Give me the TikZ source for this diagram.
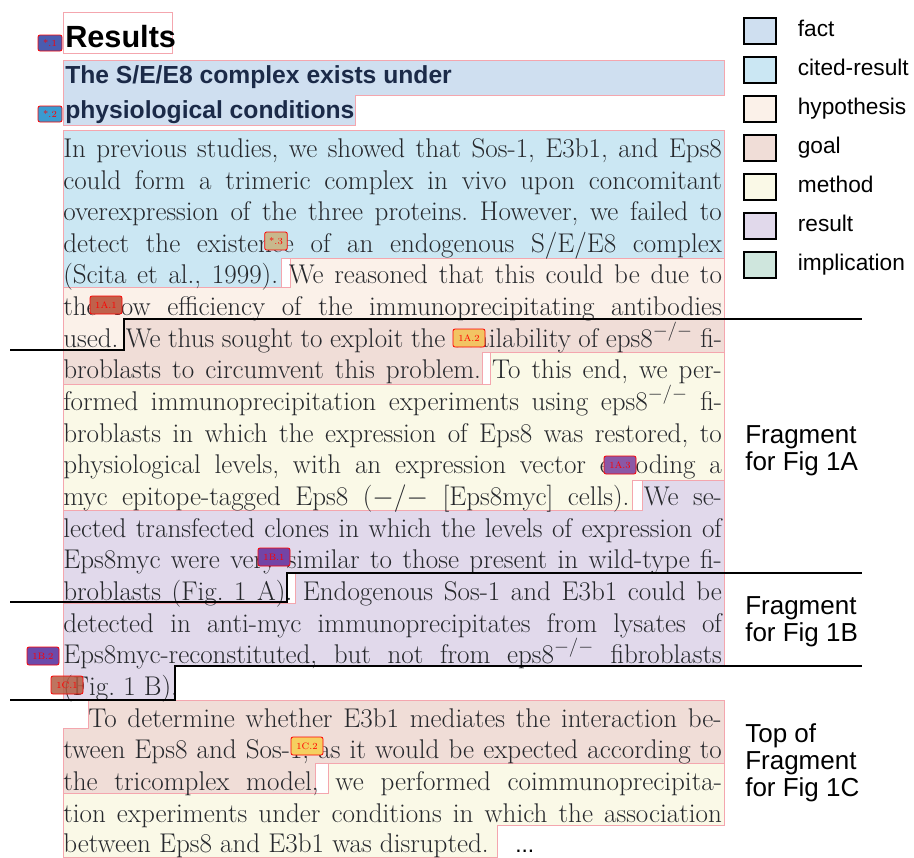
\documentclass[tikz,border=0pt]{standalone}
\usepackage{fontspec}
\setsansfont{Liberation Sans}
\usetikzlibrary{positioning}
\frenchspacing

\definecolor{factc}{HTML}{CFDFF0}
\definecolor{citedc}{HTML}{CBE7F3}
\definecolor{hypoc}{HTML}{FBF1E9}
\definecolor{goalc}{HTML}{F0DDD7}
\definecolor{methc}{HTML}{FAF9E7}
\definecolor{resc}{HTML}{E1D9EB}
\definecolor{implc}{HTML}{CFE6DD}
\definecolor{edgec}{HTML}{F4A6AE}
\definecolor{bodyc}{HTML}{26282C}
\definecolor{headc}{HTML}{1B2A48}
% badge fills
\definecolor{bgone}{HTML}{4A5CB0}
\definecolor{bgtwo}{HTML}{3A9BD0}
\definecolor{bgkhaki}{HTML}{C8B88C}
\definecolor{bgbrick}{HTML}{C0614B}
\definecolor{bgyellow}{HTML}{F2C463}
\definecolor{bgplum}{HTML}{8A58A6}
\definecolor{bgviolet}{HTML}{7344A6}
\definecolor{bgindigo}{HTML}{6B4AAA}
\definecolor{bgrust}{HTML}{B35D44}
\definecolor{bglemon}{HTML}{F5D060}

\newcommand{\jl}[1]{\makebox[494pt][s]{#1}}
\newcommand{\ko}{$^{-/-}$}

\tikzset{
  region/.style={draw=edgec, line width=0.4pt},
  bodyline/.style={anchor=base west, inner sep=0pt, text=bodyc, font=\fontsize{20.3}{24}\selectfont},
  headline/.style={anchor=base west, inner sep=0pt, text=headc, font=\fontsize{18.5}{22}\sffamily\bfseries},
  badge/.style={draw=red, fill=#1, rounded corners=1.5pt, line width=0.6pt, text=red,
    font=\fontsize{7}{7}\selectfont, minimum width=24pt, minimum height=13.5pt, inner sep=0pt},
  sepline/.style={line width=1.5pt},
  legbox/.style={draw, line width=0.9pt, minimum width=24pt, minimum height=19.5pt, inner sep=0pt},
  leglabel/.style={font=\fontsize{17}{20}\sffamily, text height=12pt, text depth=3.5pt, inner sep=0pt},
  fraglabel/.style={font=\fontsize{19.5}{20.25}\sffamily, align=left, anchor=north west, inner sep=0pt}
}

\begin{document}
\begin{tikzpicture}[x=0.75pt, y=-0.75pt]
    \useasboundingbox (0,0) rectangle (914,857);

    % highlighted spans
    \draw[region] (63,12) rectangle (172,53);
    \filldraw[region, fill=factc] (63,60) -- (724,60) -- (724,95) -- (355,95) -- (355,125) -- (63,125) -- cycle;
    \filldraw[region, fill=citedc] (63,130) -- (724,130) -- (724,258) -- (281,258) -- (281,287) -- (63,287) -- cycle;
    \filldraw[region, fill=hypoc] (290,258) -- (724,258) -- (724,319) -- (124,319) -- (124,350) -- (63,350) -- (63,287) -- (290,287) -- cycle;
    \filldraw[region, fill=goalc] (124,319) -- (724,319) -- (724,352) -- (482,352) -- (482,384) -- (63,384) -- (63,350) -- (124,350) -- cycle;
    \filldraw[region, fill=methc] (490,352) -- (724,352) -- (724,480) -- (632,480) -- (632,510) -- (63,510) -- (63,384) -- (490,384) -- cycle;
    \filldraw[region, fill=resc] (642,480) -- (724,480) -- (724,573) -- (287,573) -- (287,603) -- (63,603) -- (63,510) -- (642,510) -- cycle;
    \filldraw[region, fill=resc] (295,573) -- (724,573) -- (724,666) -- (175,666) -- (175,700) -- (63,700) -- (63,603) -- (295,603) -- cycle;
    \filldraw[region, fill=goalc] (88,700) -- (724,700) -- (724,763) -- (315,763) -- (315,793) -- (63,793) -- (63,728) -- (88,728) -- cycle;
    \filldraw[region, fill=methc] (328,763) -- (724,763) -- (724,825) -- (497,825) -- (497,857) -- (63,857) -- (63,793) -- (328,793) -- cycle;

    % headings
    \node[headline, text=black, font=\fontsize{23}{26}\sffamily\bfseries] (res) at (65,47) {Results};
    \node[headline] (h1) at (65,83) {The S/E/E8 complex exists under};
    \node[headline] (h2) at (65,118) {physiological conditions};

    % body text
    \node[bodyline] (l1) at (63,157) {\jl{In previous studies, we showed that Sos-1, E3b1, and Eps8}};
    \node[bodyline] (l2) at (63,189) {\jl{could form a trimeric complex in vivo upon concomitant}};
    \node[bodyline] (l3) at (63,220) {\jl{overexpression of the three proteins. However, we failed to}};
    \node[bodyline] (l4) at (63,252) {\jl{detect the existence of an endogenous S/E/E8 complex}};
    \node[bodyline] (l5) at (63,283) {\jl{(Scita et al., 1999). We reasoned that this could be due to}};
    \node[bodyline] (l6) at (63,315) {\jl{the low efficiency of the immunoprecipitating antibodies}};
    \node[bodyline] (l7) at (63,347) {\jl{used. We thus sought to exploit the availability of eps8\ko{} fi-}};
    \node[bodyline] (l8) at (63,378) {\jl{broblasts to circumvent this problem. To this end, we per-}};
    \node[bodyline] (l9) at (63,410) {\jl{formed immunoprecipitation experiments using eps8\ko{} fi-}};
    \node[bodyline] (l10) at (63,442) {\jl{broblasts in which the expression of Eps8 was restored, to}};
    \node[bodyline] (l11) at (63,473) {\jl{physiological levels, with an expression vector encoding a}};
    \node[bodyline] (l12) at (63,505) {\jl{myc epitope-tagged Eps8 ($-/-$ [Eps8myc] cells). We se-}};
    \node[bodyline] (l13) at (63,537) {\jl{lected transfected clones in which the levels of expression of}};
    \node[bodyline] (l14) at (63,568) {\jl{Eps8myc were very similar to those present in wild-type fi-}};
    \node[bodyline] (l15) at (63,600) {\jl{broblasts (Fig. 1 A). Endogenous Sos-1 and E3b1 could be}};
    \node[bodyline] (l16) at (63,632) {\jl{detected in anti-myc immunoprecipitates from lysates of}};
    \node[bodyline] (l17) at (63,663) {\jl{Eps8myc-reconstituted, but not from eps8\ko{} fibroblasts}};
    \node[bodyline] (l18) at (63,695) {(Fig. 1 B).};
    \node[bodyline] (l19) at (88,727) {\makebox[475pt][s]{To determine whether E3b1 mediates the interaction be-}};
    \node[bodyline] (l20) at (63,758) {\jl{tween Eps8 and Sos-1, as it would be expected according to}};
    \node[bodyline] (l21) at (63,790) {\jl{the tricomplex model, we performed coimmunoprecipita-}};
    \node[bodyline] (l22) at (63,822) {\jl{tion experiments under conditions in which the association}};
    \node[bodyline] (l23) at (63,852) {between Eps8 and E3b1 was disrupted.};
    \node[anchor=base west, inner sep=0pt, font=\fontsize{17}{20}\sffamily] (dots) at (515,852) {...};

    % fragment boundaries
    \draw[sepline] (10,350) -- (124,350) -- (124,319) -- (862,319);
    \draw[sepline] (10,602) -- (287,602) -- (287,573) -- (862,573);
    \draw[sepline] (10,700) -- (175,700) -- (175,666) -- (862,666);

    % span badges
    \node[badge=bgone, minimum width=18pt, minimum height=12pt] (s1) at (50,43) {*.1};
    \node[badge=bgtwo, minimum width=18pt, minimum height=12pt] (s2) at (50,114) {*.2};
    \node[badge=bgkhaki, minimum width=17pt] (s3) at (276,241) {*.3};
    \node[badge=bgbrick] (a1) at (106,305) {1A.1};
    \node[badge=bgyellow] (a2) at (469,338) {1A.2};
    \node[badge=bgplum] (a3) at (620,465) {1A.3};
    \node[badge=bgviolet] (b1) at (274,557) {1B.1};
    \node[badge=bgindigo] (b2) at (43,656) {1B.2};
    \node[badge=bgrust, fill opacity=0.85, text opacity=1] (c1) at (67,685) {1C.1};
    \node[badge=bglemon] (c2) at (307,746) {1C.2};

    % legend
    \node[legbox, fill=factc] (k1) at (760,31) {};
    \node[legbox, fill=citedc] (k2) at (760,70) {};
    \node[legbox, fill=hypoc] (k3) at (760,109) {};
    \node[legbox, fill=goalc] (k4) at (760,148) {};
    \node[legbox, fill=methc] (k5) at (760,187) {};
    \node[legbox, fill=resc] (k6) at (760,226) {};
    \node[legbox, fill=implc] (k7) at (760,265) {};
    \node[leglabel, right=15.75pt of k1] (t1) {fact};
    \node[leglabel, right=15.75pt of k2] (t2) {cited-result};
    \node[leglabel, right=15.75pt of k3] (t3) {hypothesis};
    \node[leglabel, right=15.75pt of k4] (t4) {goal};
    \node[leglabel, right=15.75pt of k5] (t5) {method};
    \node[leglabel, right=15.75pt of k6] (t6) {result};
    \node[leglabel, right=15.75pt of k7] (t7) {implication};

    % fragment labels
    \node[fraglabel] (f1a) at (745,425) {Fragment\\for Fig 1A};
    \node[fraglabel] (f1b) at (745,596) {Fragment\\for Fig 1B};
    \node[fraglabel] (f1c) at (745,723) {Top of\\Fragment\\for Fig 1C};
\end{tikzpicture}
\end{document}
